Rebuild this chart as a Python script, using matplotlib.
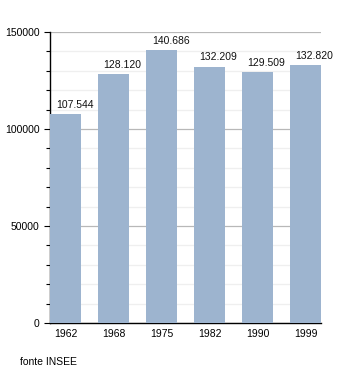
import matplotlib

matplotlib.use("Agg")
import matplotlib.pyplot as plt
from matplotlib.ticker import MultipleLocator

years = ["1962", "1968", "1975", "1982", "1990", "1999"]
population = [107544, 128120, 140686, 132209, 129509, 132820]
labels = ["107.544", "128.120", "140.686", "132.209", "129.509", "132.820"]

plt.rcParams["font.family"] = ["Liberation Sans", "DejaVu Sans"]

fig = plt.figure(figsize=(3.5, 3.73), dpi=100)
ax = fig.add_axes([50 / 350, 1 - 323 / 373, 271 / 350, 291 / 373])

x = list(range(len(years)))
ax.bar(x, population, width=0.646, color="#9db4cf", zorder=3)
for xi, v, lab in zip(x, population, labels):
    ax.annotate(lab, (xi, v), xytext=(6.5, 3), textcoords="offset points",
                ha="center", va="bottom", fontsize=7.5, color="#111111")

ax.set_ylim(0, 150000)
ax.set_xlim(-0.323, 5.323)
ax.yaxis.set_major_locator(MultipleLocator(50000))
ax.yaxis.set_minor_locator(MultipleLocator(10000))
ax.grid(axis="y", which="major", color="#b8b8b8", lw=0.9, zorder=1)
ax.grid(axis="y", which="minor", color="#efefef", lw=0.9, zorder=1)
ax.set_xticks(x)
ax.set_xticklabels(years)
ax.tick_params(axis="x", length=0, labelsize=7.5, pad=4)
ax.tick_params(axis="y", which="major", length=4, labelsize=7.5, width=0.8)
ax.tick_params(axis="y", which="minor", length=3, width=0.8)
for side in ["top", "right"]:
    ax.spines[side].set_visible(False)
ax.spines["left"].set_linewidth(1)
ax.spines["bottom"].set_linewidth(1)

fig.text(20 / 350, 1 - 362 / 373, "fonte INSEE", fontsize=7.5, ha="left", va="center")

fig.savefig("out.png", dpi=100)
